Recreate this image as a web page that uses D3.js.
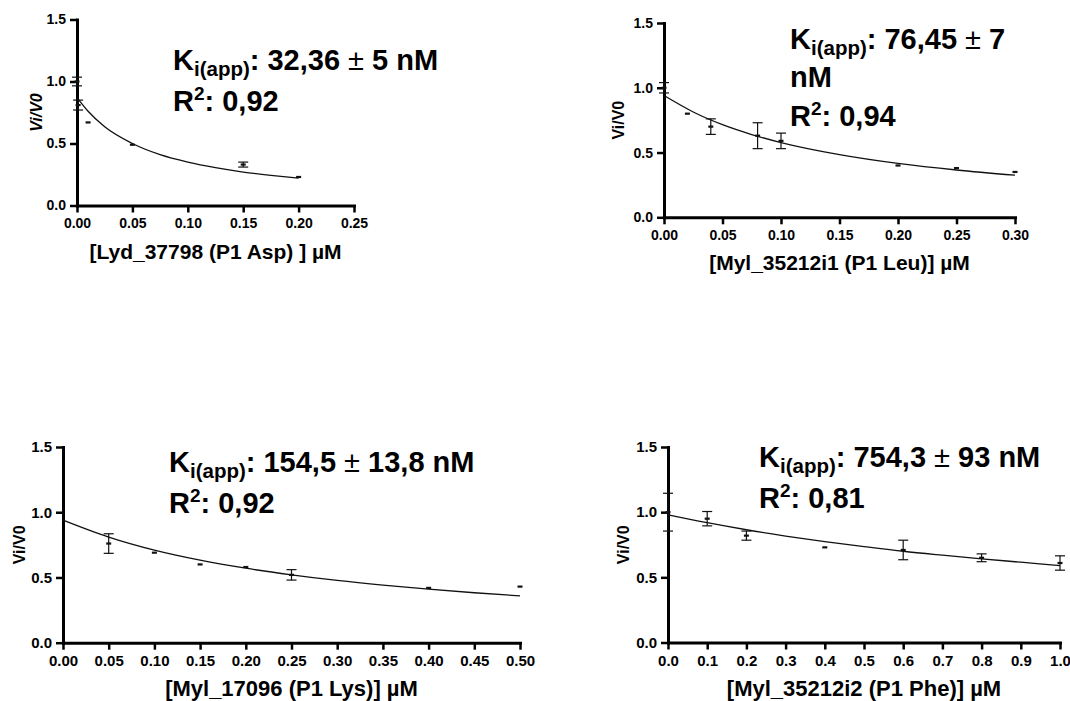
<!DOCTYPE html>
<html>
<head>
<meta charset="utf-8">
<script src="https://cdn.jsdelivr.net/npm/d3@7"></script>
<style>
  body { margin: 0; background: #fff; }
  svg { display: block; }
  text { font-family: "Liberation Sans", Arial, sans-serif; font-weight: bold; fill: #000; }
</style>
</head>
<body>
<div id="container"></div>
<script>
//panel 1 - Lyd_37798 (P1 Asp)
var aspConc = [0, 0.001, 0.01, 0.05, 0.15, 0.2];
var aspMean = [1.0, 0.81, 0.67, 0.49, 0.33, 0.23];
var aspErr = [0.035, 0.04, 0, 0, 0.02, 0];
var aspFitX = [0, 0.01, 0.025, 0.05, 0.075, 0.1, 0.125, 0.15, 0.175, 0.2];
var aspFitY = [0.87, 0.76, 0.635, 0.50, 0.41, 0.35, 0.305, 0.27, 0.243, 0.22];

//panel 2 - Myl_35212i1 (P1 Leu)
var leuConc = [0, 0.02, 0.04, 0.08, 0.1, 0.2, 0.25, 0.3];
var leuMean = [1.0, 0.80, 0.70, 0.63, 0.59, 0.40, 0.38, 0.35];
var leuErr = [0.04, 0, 0.06, 0.10, 0.06, 0, 0, 0];
var leuFitX = [0, 0.025, 0.05, 0.075, 0.1, 0.15, 0.2, 0.25, 0.3];
var leuFitY = [0.94, 0.813, 0.715, 0.639, 0.577, 0.484, 0.416, 0.365, 0.325];

//panel 3 - Myl_17096 (P1 Lys)
var lysConc = [0.05, 0.1, 0.15, 0.2, 0.25, 0.4, 0.5];
var lysMean = [0.76, 0.69, 0.60, 0.58, 0.52, 0.42, 0.43];
var lysErr = [0.075, 0, 0, 0, 0.04, 0, 0];
var lysFitX = [0, 0.05, 0.1, 0.15, 0.2, 0.25, 0.3, 0.35, 0.4, 0.45, 0.5];
var lysFitY = [0.94, 0.81, 0.71, 0.633, 0.571, 0.52, 0.477, 0.441, 0.41, 0.383, 0.359];

//panel 4 - Myl_35212i2 (P1 Phe)
var pheConc = [0, 0.1, 0.2, 0.4, 0.6, 0.8, 1.0];
var pheMean = [1.0, 0.95, 0.82, 0.73, 0.71, 0.65, 0.61];
var pheErr = [0.145, 0.055, 0.035, 0, 0.075, 0.03, 0.055];
var pheFitX = [0, 0.1, 0.2, 0.3, 0.4, 0.5, 0.6, 0.7, 0.8, 0.9, 1.0];
var pheFitY = [0.98, 0.919, 0.865, 0.817, 0.774, 0.736, 0.70, 0.670, 0.642, 0.616, 0.59];

//tick values and labels
var yTicks = [0, 0.5, 1.0, 1.5];
var xTicksAsp = [0, 0.05, 0.1, 0.15, 0.2, 0.25];
var xTicksLeu = [0, 0.05, 0.1, 0.15, 0.2, 0.25, 0.3];
var xTicksLys = [0, 0.05, 0.1, 0.15, 0.2, 0.25, 0.3, 0.35, 0.4, 0.45, 0.5];
var xTicksPhe = [0, 0.1, 0.2, 0.3, 0.4, 0.5, 0.6, 0.7, 0.8, 0.9, 1.0];
var xTitles = ["[Lyd_37798 (P1 Asp) ] µM", "[Myl_35212i1 (P1 Leu)] µM", "[Myl_17096 (P1 Lys)] µM", "[Myl_35212i2 (P1 Phe)] µM"];
var kLabels = ["32,36 ± 5 nM", "76,45 ± 7", "154,5 ± 13,8 nM", "754,3 ± 93 nM"];
var r2Labels = ["0,92", "0,94", "0,92", "0,81"];

(function(){
    window.onload = setChart;

    function setChart(){
        var width = 1070, height = 701;

        var svg = d3.select("#container")
            .append("svg")
            .attr("width", width)
            .attr("height", height);

        //panel frames + which data goes where
        var panels = [
            {conc: aspConc, mean: aspMean, err: aspErr, fitX: aspFitX, fitY: aspFitY, xTicks: xTicksAsp, fmt: ".2f",
             left: 77, right: 354, bottom: 205.5, top: 19.5, ylabX: 36, italic: true, kx: 173, ky: 70,
             tickFont: 14, titleFont: 21, extraLine: false},
            {conc: leuConc, mean: leuMean, err: leuErr, fitX: leuFitX, fitY: leuFitY, xTicks: xTicksLeu, fmt: ".2f",
             left: 664, right: 1015, bottom: 217.3, top: 23, ylabX: 618, italic: false, kx: 790, ky: 49,
             tickFont: 14, titleFont: 21, extraLine: true},
            {conc: lysConc, mean: lysMean, err: lysErr, fitX: lysFitX, fitY: lysFitY, xTicks: xTicksLys, fmt: ".2f",
             left: 63, right: 520, bottom: 642.7, top: 447, ylabX: 19, italic: false, kx: 169, ky: 472,
             tickFont: 15, titleFont: 22, extraLine: false},
            {conc: pheConc, mean: pheMean, err: pheErr, fitX: pheFitX, fitY: pheFitY, xTicks: xTicksPhe, fmt: ".1f",
             left: 668, right: 1060, bottom: 642.5, top: 447, ylabX: 623, italic: false, kx: 759, ky: 467,
             tickFont: 15, titleFont: 22, extraLine: false}
        ];

        panels.forEach(function(p, i){
            drawPanel(svg, p, i);
        });
    }

    function drawPanel(svg, p, i){
        var g = svg.append("g").attr("class", "panel" + i);

        var xMax = p.xTicks[p.xTicks.length - 1];
        var x = d3.scaleLinear().domain([0, xMax]).range([p.left, p.right]);
        var y = d3.scaleLinear().domain([0, 1.5]).range([p.bottom, p.top]);

        //axes
        var xAxis = d3.axisBottom(x)
            .tickValues(p.xTicks)
            .tickFormat(d3.format(p.fmt))
            .tickSize(7)
            .tickSizeOuter(0)
            .tickPadding(6);
        var yAxis = d3.axisLeft(y)
            .tickValues(yTicks)
            .tickFormat(d3.format(".1f"))
            .tickSize(7)
            .tickSizeOuter(0)
            .tickPadding(4);

        var gx = g.append("g")
            .attr("transform", "translate(0," + p.bottom + ")")
            .call(xAxis);
        var gy = g.append("g")
            .attr("transform", "translate(" + p.left + ",0)")
            .call(yAxis);

        [gx, gy].forEach(function(ax){
            ax.attr("font-family", null).attr("font-size", null);
            ax.select(".domain").attr("stroke", "#000").attr("stroke-width", 3).attr("stroke-linecap", "square");
            ax.selectAll(".tick line").attr("stroke", "#000").attr("stroke-width", 2.5);
            ax.selectAll(".tick text").style("font-size", p.tickFont + "px").attr("fill", "#000");
        });

        //axis titles
        g.append("text")
            .attr("x", (p.left + p.right) / 2)
            .attr("y", p.bottom + 53)
            .attr("text-anchor", "middle")
            .style("font-size", p.titleFont + "px")
            .text(xTitles[i]);

        g.append("text")
            .attr("transform", "translate(" + p.ylabX + "," + (p.bottom + p.top) / 2 + ") rotate(-90)")
            .attr("text-anchor", "middle")
            .attr("dy", "0.35em")
            .style("font-size", "16px")
            .style("font-style", p.italic ? "italic" : "normal")
            .text("Vi/V0");

        //fitted curve
        var line = d3.line()
            .x(function(d){ return x(d[0]); })
            .y(function(d){ return y(d[1]); })
            .curve(d3.curveMonotoneX);

        g.append("path")
            .datum(p.fitX.map(function(v, k){ return [v, p.fitY[k]]; }))
            .attr("d", line)
            .attr("fill", "none")
            .attr("stroke", "#111")
            .attr("stroke-width", 1.3);

        //points with error bars
        var pts = g.selectAll(".pt")
            .data(p.conc.map(function(v, k){ return {x: v, m: p.mean[k], e: p.err[k]}; }))
            .enter()
            .append("g")
            .attr("class", "pt");

        var bars = pts.filter(function(d){ return d.e > 0; });
        bars.append("line")
            .attr("x1", function(d){ return x(d.x); })
            .attr("x2", function(d){ return x(d.x); })
            .attr("y1", function(d){ return y(d.m - d.e); })
            .attr("y2", function(d){ return y(d.m + d.e); })
            .attr("stroke", "#111").attr("stroke-width", 1.2);
        [-1, 1].forEach(function(s){
            bars.append("line")
                .attr("x1", function(d){ return x(d.x) - 5; })
                .attr("x2", function(d){ return x(d.x) + 5; })
                .attr("y1", function(d){ return y(d.m + s * d.e); })
                .attr("y2", function(d){ return y(d.m + s * d.e); })
                .attr("stroke", "#111").attr("stroke-width", 1.2);
        });

        pts.append("rect")
            .attr("x", function(d){ return x(d.x) - 2.5; })
            .attr("y", function(d){ return y(d.m) - 1.1; })
            .attr("width", 5)
            .attr("height", 2.2)
            .attr("fill", "#111");

        //Ki and R2 labels
        var kt = g.append("text")
            .attr("x", p.kx)
            .attr("y", p.ky)
            .style("font-size", "29px");
        kt.append("tspan").text("K");
        kt.append("tspan").attr("dy", 6).style("font-size", "20.5px").text("i(app)");
        kt.append("tspan").attr("dy", -6).text(": ");
        kt.append("tspan").text(kLabels[i].split("±")[0]);
        kt.append("tspan").style("font-weight", "normal").text("±");
        kt.append("tspan").text(kLabels[i].split("±")[1]);

        var ry = p.ky + 41;
        if (p.extraLine) {
            g.append("text")
                .attr("x", p.kx)
                .attr("y", p.ky + 38)
                .style("font-size", "29px")
                .text("nM");
            ry = p.ky + 77;
        }

        var rt = g.append("text")
            .attr("x", p.kx)
            .attr("y", ry)
            .style("font-size", "29px");
        rt.append("tspan").text("R");
        rt.append("tspan").attr("dy", -11).style("font-size", "19px").text("2");
        rt.append("tspan").attr("dy", 11).text(": " + r2Labels[i]);
    }
})();
</script>
</body>
</html>
